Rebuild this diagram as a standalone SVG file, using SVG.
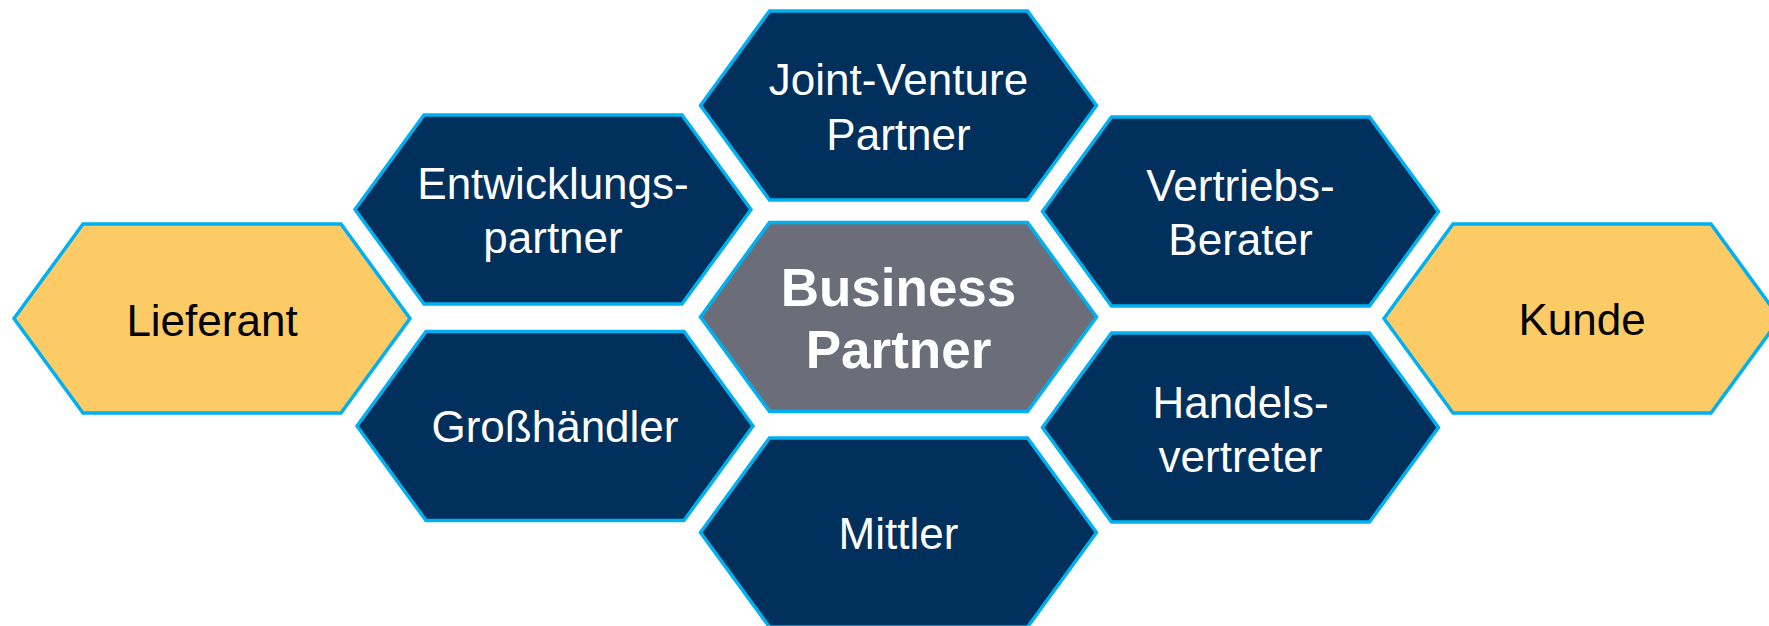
<svg xmlns="http://www.w3.org/2000/svg" xmlns:xlink="http://www.w3.org/1999/xlink" width="1769" height="626" viewBox="0 0 1769 626">
  <style>
    .hex { stroke: #00B0F0; stroke-width: 3.5; stroke-linejoin: miter; }
    .navy { fill: #00305B; }
    .gold { fill: #FDCB66; }
    .core { fill: #6B6E78; }
    .lbl { font-family: "Liberation Sans", Arial, sans-serif; font-size: 44px; text-anchor: middle; }
    .light { fill: #FFFFFF; }
    .dark { fill: #000000; }
    .bold { font-weight: bold; font-size: 53px; }
  </style>
  <defs>
    <!-- flat-topped hexagon, 396 x 189, origin at its top-left bounding corner -->
    <polygon id="hexShape" points="0,94.5 69,0 327,0 396,94.5 327,189 69,189"/>
  </defs>
  <rect width="1769" height="626" fill="#FFFFFF"/>

  <g id="lieferant">
    <use xlink:href="#hexShape" href="#hexShape" class="hex gold" transform="translate(14,224)"/>
    <text class="lbl dark" x="212" y="335.5">Lieferant</text>
  </g>

  <g id="joint-venture">
    <use xlink:href="#hexShape" href="#hexShape" class="hex navy" transform="translate(700.5,11)"/>
    <text class="lbl light" x="898.5" y="94.5">Joint-Venture</text>
    <text class="lbl light" x="898.5" y="149.5">Partner</text>
  </g>

  <g id="entwicklungspartner">
    <use xlink:href="#hexShape" href="#hexShape" class="hex navy" transform="translate(355,115)"/>
    <text class="lbl light" x="553" y="199">Entwicklungs-</text>
    <text class="lbl light" x="553" y="253">partner</text>
  </g>

  <g id="business-partner">
    <use xlink:href="#hexShape" href="#hexShape" class="hex core" transform="translate(700.5,222.5)"/>
    <text class="lbl light bold" x="898.5" y="306">Business</text>
    <text class="lbl light bold" x="898.5" y="368">Partner</text>
  </g>

  <g id="vertriebs-berater">
    <use xlink:href="#hexShape" href="#hexShape" class="hex navy" transform="translate(1042.5,117)"/>
    <text class="lbl light" x="1240.5" y="201">Vertriebs-</text>
    <text class="lbl light" x="1240.5" y="255">Berater</text>
  </g>

  <g id="grosshaendler">
    <use xlink:href="#hexShape" href="#hexShape" class="hex navy" transform="translate(357,331.5)"/>
    <text class="lbl light" x="555" y="441.5">Großhändler</text>
  </g>

  <g id="handelsvertreter">
    <use xlink:href="#hexShape" href="#hexShape" class="hex navy" transform="translate(1042.5,333)"/>
    <text class="lbl light" x="1240.5" y="417.5">Handels-</text>
    <text class="lbl light" x="1240.5" y="471.5">vertreter</text>
  </g>

  <g id="mittler">
    <use xlink:href="#hexShape" href="#hexShape" class="hex navy" transform="translate(700.5,438)"/>
    <text class="lbl light" x="898.5" y="549">Mittler</text>
  </g>

  <g id="kunde">
    <use xlink:href="#hexShape" href="#hexShape" class="hex gold" transform="translate(1384,224)"/>
    <text class="lbl dark" x="1582" y="335">Kunde</text>
  </g>
</svg>
